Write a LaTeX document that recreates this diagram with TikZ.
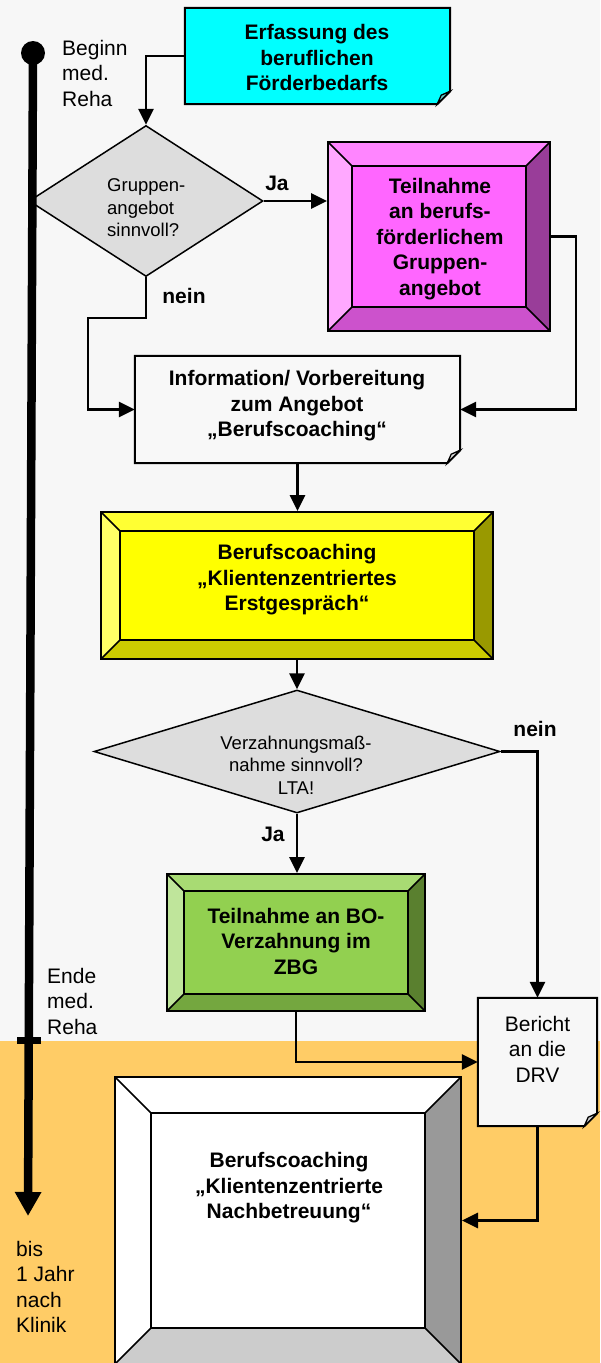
\documentclass[tikz,border=0pt]{standalone}
\usepackage{fontspec}
\setmainfont{Liberation Sans}
\usetikzlibrary{arrows.meta,shapes.geometric,backgrounds}
\definecolor{bggrey}{HTML}{F7F7F7}
\definecolor{bgorange}{HTML}{FFCC66}
\definecolor{dgrey}{HTML}{DDDDDD}
\definecolor{pinkin}{HTML}{FF66FF}
\definecolor{pinktop}{HTML}{FF85FF}
\definecolor{pinkleft}{HTML}{FFA8FF}
\definecolor{pinkright}{HTML}{993D99}
\definecolor{pinkbot}{HTML}{CC52CC}
\definecolor{yelin}{HTML}{FFFF00}
\definecolor{yeltop}{HTML}{FFFF33}
\definecolor{yelleft}{HTML}{FFFF66}
\definecolor{yelright}{HTML}{999900}
\definecolor{yelbot}{HTML}{CCCC00}
\definecolor{grnin}{HTML}{92D050}
\definecolor{grntop}{HTML}{A8DB73}
\definecolor{grnleft}{HTML}{BFE59B}
\definecolor{grnright}{HTML}{5A802F}
\definecolor{grnbot}{HTML}{74A73F}
\definecolor{wright}{HTML}{999999}
\definecolor{wbot}{HTML}{CCCCCC}
\definecolor{cyanbox}{HTML}{00FFFF}
\definecolor{cyanfold}{HTML}{66CCCC}
\definecolor{notefill}{HTML}{F8F8F8}
\definecolor{notefold}{HTML}{CCCCCC}
\newcommand\notebg[3]{%
  \begin{scope}[on background layer]
    \filldraw[fill=#2, draw=black, line width=2pt, line join=miter]
      (#1.north west) -- (#1.north east) -- ([yshift=13pt]#1.south east)
      -- ([xshift=-13pt]#1.south east) -- (#1.south west) -- cycle;
    \filldraw[fill=#3, draw=black, line width=1.3pt]
      ([yshift=13pt]#1.south east) -- ([shift={(-9pt,9pt)}]#1.south east)
      -- ([xshift=-13pt]#1.south east) -- cycle;
  \end{scope}}
\tikzset{
  x=1pt, y=-1pt,
  boldtext/.style={font=\bfseries\fontsize{21}{25.5}\selectfont, align=center, inner sep=0pt},
  lbl/.style={font=\fontsize{21}{25.5}\selectfont, align=left, inner sep=0pt},
  dtext/.style={font=\fontsize{18.5}{22.5}\selectfont, inner sep=0pt},
  boxshape/.style={rectangle, inner sep=0pt},
  decision/.style={diamond, draw=black, line width=1.5pt, fill=dgrey, inner sep=0pt, aspect=2},
  conn/.style={line width=2.8pt, -{Triangle[length=16pt,width=15pt]}},
  bevelbox/.style n args={6}{rectangle, draw=black, line width=2pt, fill=#6, inner sep=0pt,
    path picture={
      \coordinate (NW) at (path picture bounding box.north west);
      \coordinate (NE) at (path picture bounding box.north east);
      \coordinate (SW) at (path picture bounding box.south west);
      \coordinate (SE) at (path picture bounding box.south east);
      \coordinate (nw) at ([shift={(#1,-#1)}]NW);
      \coordinate (ne) at ([shift={(-#1,-#1)}]NE);
      \coordinate (sw) at ([shift={(#1,#1)}]SW);
      \coordinate (se) at ([shift={(-#1,#1)}]SE);
      \fill[#2] (NW) -- (NE) -- (ne) -- (nw) -- cycle;
      \fill[#3] (NW) -- (nw) -- (sw) -- (SW) -- cycle;
      \fill[#4] (NE) -- (SE) -- (se) -- (ne) -- cycle;
      \fill[#5] (SW) -- (SE) -- (se) -- (sw) -- cycle;
      \draw[line width=1.5pt] (nw) rectangle (se);
      \draw[line width=1.5pt] (NW) -- (nw) (NE) -- (ne) (SE) -- (se) (SW) -- (sw);
    }},
}
\begin{document}
\begin{tikzpicture}
\useasboundingbox (0,0) rectangle (600,1363);
\begin{scope}[on background layer]
  \fill[bggrey] (0,0) rectangle (600,1041);
  \fill[bgorange] (0,1041) rectangle (600,1363);
\end{scope}

% boxes
\node[boxshape, minimum width=265pt, minimum height=96pt] (erf) at (317.5,56) {};
\notebg{erf}{cyanbox}{cyanfold}
\node[boldtext] (erftext) at (317,57.5) {Erfassung des\\beruflichen\\Förderbedarfs};

\node[decision, minimum width=234pt, minimum height=151pt] (d1) at (146,201) {};
\node[dtext, align=left, anchor=west] (d1text) at (107,208) {Gruppen-\\angebot\\sinnvoll?};

\node[bevelbox={24pt}{pinktop}{pinkleft}{pinkright}{pinkbot}{pinkin}, minimum width=222pt, minimum height=189pt] (pink) at (439,236.5) {};
\node[boldtext] (pinktext) at (440,239) {Teilnahme\\an berufs-\\förderlichem\\Gruppen-\\angebot};

\node[boxshape, minimum width=325pt, minimum height=107pt] (info) at (297.5,409.5) {};
\notebg{info}{notefill}{dgrey}
\node[boldtext] (infotext) at (297,406) {Information/ Vorbereitung\\zum Angebot\\„Berufscoaching“};

\node[bevelbox={19pt}{yeltop}{yelleft}{yelright}{yelbot}{yelin}, minimum width=392pt, minimum height=147pt] (yel) at (297,585.5) {};
\node[boldtext] (yeltext) at (297,580) {Berufscoaching\\„Klientenzentriertes\\Erstgespräch“};

\node[decision, aspect=3.3, minimum width=406pt, minimum height=123pt] (d2) at (297,751.5) {};
\node[dtext, align=center] (d2text) at (296,765) {Verzahnungsmaß-\\nahme sinnvoll?\\LTA!};

\node[bevelbox={17pt}{grntop}{grnleft}{grnright}{grnbot}{grnin}, minimum width=258pt, minimum height=137pt] (green) at (296,942.5) {};
\node[boldtext] (greentext) at (296,941) {Teilnahme an BO-\\Verzahnung im\\ZBG};

\node[boxshape, minimum width=119pt, minimum height=128pt] (ber) at (537.5,1062) {};
\notebg{ber}{bggrey}{notefold}
\node[lbl, align=center] (bertext) at (537.5,1049) {Bericht\\an die\\DRV};

\node[bevelbox={36pt}{white}{white}{wright}{wbot}{white}, minimum width=346pt, minimum height=287pt] (white) at (288,1220.5) {};
\node[boldtext] (whitetext) at (289,1188) {Berufscoaching\\„Klientenzentrierte\\Nachbetreuung“};

% labels
\node[boldtext] (ja1) at (277,183) {Ja};
\node[boldtext] (nein1) at (184,296) {nein};
\node[boldtext] (nein2) at (535,729) {nein};
\node[boldtext] (ja2) at (273,834) {Ja};
\node[lbl, anchor=west] (beginn) at (62,73) {Beginn\\med.\\Reha};
\node[lbl, anchor=west] (ende) at (47,1001) {Ende\\med.\\Reha};
\node[lbl, anchor=west] (bis) at (16,1287) {bis\\1 Jahr\\nach\\Klinik};

% connectors
\coordinate (nb) at (88,318);
\coordinate (pr) at (576,300);
\draw[conn] (erf.west) -| (d1.north);
\draw[conn] (d1.east) -- (d1.east -| pink.west);
\draw[conn] (d1.south) |- (nb) |- (info.west);
\draw[conn] (pink.east) -- (pink.east -| pr) |- (info.east);
\draw[conn] (info.south) -- (info.south |- yel.north);
\draw[conn] (yel.south) -- (yel.south |- d2.north);
\draw[conn] (d2.south) -- (d2.south |- green.north);
\draw[conn] (d2.east) -| (ber.north);
\draw[conn] (green.south) |- (ber.west);
\draw[conn] (ber.south) |- (white.east);

% timeline
\node[circle, fill=black, minimum size=24pt, inner sep=0pt] (tlstart) at (33,53) {};
\coordinate (tlend) at (28,1216);
\draw[line width=8.5pt, -{Triangle[length=24pt,width=25pt]}] (tlstart.center) -- (tlend);
\node[rectangle, fill=black, minimum width=24pt, minimum height=7pt, inner sep=0pt] (tick) at (28.5,1040.5) {};
\end{tikzpicture}
\end{document}
